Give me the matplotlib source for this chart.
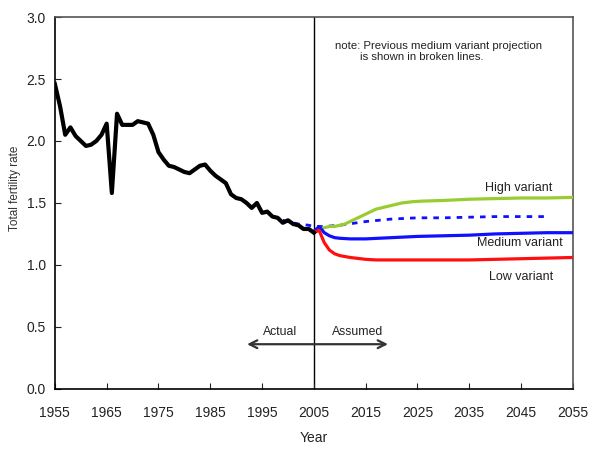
import numpy as np
import matplotlib
matplotlib.use('Agg')
import matplotlib.pyplot as plt

plt.rcParams['font.family'] = ['Liberation Sans', 'DejaVu Sans']

# actual total fertility rate
actual_years = list(range(1955, 2006))
actual_tfr = [2.46, 2.28, 2.05, 2.11, 2.04, 2.00, 1.96, 1.97, 2.00, 2.05,
              2.14, 1.58, 2.22, 2.13, 2.13, 2.13, 2.16, 2.15, 2.14, 2.05,
              1.91, 1.85, 1.80, 1.79, 1.77, 1.75, 1.74, 1.77, 1.80, 1.81,
              1.76, 1.72, 1.69, 1.66, 1.57, 1.54, 1.53, 1.50, 1.46, 1.50,
              1.42, 1.43, 1.39, 1.38, 1.34, 1.36, 1.33, 1.32, 1.29, 1.29,
              1.26]

# projections
high_years = [2005, 2006, 2007, 2008, 2009, 2010, 2011, 2012, 2013, 2014, 2015, 2016, 2017,
              2018, 2019, 2020, 2022, 2024, 2026, 2030, 2035, 2040, 2045, 2050, 2055]
high_tfr = [1.26, 1.29, 1.30, 1.31, 1.31, 1.32, 1.33, 1.35, 1.37, 1.39, 1.41, 1.43, 1.45,
            1.46, 1.47, 1.48, 1.50, 1.51, 1.515, 1.52, 1.53, 1.535, 1.54, 1.54, 1.545]

medium_years = [2005, 2006, 2007, 2008, 2009, 2010, 2012, 2015, 2020, 2025, 2030, 2035, 2040, 2045, 2050, 2055]
medium_tfr = [1.27, 1.31, 1.26, 1.235, 1.22, 1.215, 1.21, 1.21, 1.22, 1.23, 1.235, 1.24, 1.25, 1.255, 1.26, 1.26]

low_years = [2005, 2006, 2007, 2008, 2009, 2010, 2012, 2015, 2017, 2020, 2025, 2030, 2035, 2040, 2045, 2050, 2055]
low_tfr = [1.26, 1.28, 1.18, 1.12, 1.09, 1.075, 1.06, 1.045, 1.04, 1.04, 1.04, 1.04, 1.04, 1.045, 1.05, 1.055, 1.06]

# previous medium variant projection (broken line)
prev_years = [1999, 2000, 2002, 2004, 2005, 2007, 2010, 2015, 2020, 2025, 2030, 2035, 2040, 2045, 2050]
prev_tfr = [1.36, 1.35, 1.33, 1.32, 1.31, 1.31, 1.32, 1.35, 1.37, 1.38, 1.38, 1.385, 1.39, 1.39, 1.39]

xticks = list(range(1955, 2056, 10))
yticks = [0.0, 0.5, 1.0, 1.5, 2.0, 2.5, 3.0]

fig = plt.figure(figsize=(5.9, 4.49), dpi=100)
ax = fig.add_axes([0.093, 0.134, 0.878, 0.828])

ax.plot(prev_years, prev_tfr, color='#1010ff', lw=2, dashes=(2, 2.2), zorder=2)
ax.plot(high_years, high_tfr, color='#99cc33', lw=2.3, zorder=3)
ax.plot(medium_years, medium_tfr, color='#1010ff', lw=2.3, zorder=3)
ax.plot(low_years, low_tfr, color='#ff1010', lw=2.3, zorder=3)
ax.plot(actual_years, actual_tfr, color='black', lw=3, solid_joinstyle='round', zorder=4)

ax.axvline(2005, color='black', lw=1, zorder=1)

ax.set_xlim(1955, 2055)
ax.set_ylim(0, 3.0)
ax.set_xticks(xticks)
ax.set_yticks(yticks)
ax.set_yticklabels(['%.1f' % v for v in yticks])
ax.tick_params(direction='in', length=4, labelsize=10, colors='#222222', pad=6.5)
ax.tick_params(axis='x', pad=12)
for side in ['left', 'bottom']:
    ax.spines[side].set_color('black')
    ax.spines[side].set_linewidth(1.2)
for side in ['top', 'right']:
    ax.spines[side].set_color('#555555')
    ax.spines[side].set_linewidth(1.2)

ax.set_xlabel('Year', fontsize=10, color='#222222')
ax.xaxis.set_label_coords(0.5, -0.114)
ax.set_ylabel('Total fertility rate', fontsize=8.5, color='#333333')
ax.yaxis.set_label_coords(-0.066, 0.54)

ax.text(2044.6, 1.62, 'High variant', fontsize=9, ha='center', va='center', color='#222222')
ax.text(2044.7, 1.176, 'Medium variant', fontsize=9, ha='center', va='center', color='#222222')
ax.text(2045.0, 0.90, 'Low variant', fontsize=9, ha='center', va='center', color='#222222')
ax.text(2009.0, 2.72, 'note: Previous medium variant projection\n        is shown in broken lines.',
        fontsize=8.2, ha='left', va='center', color='#222222', linespacing=1.15)

ax.text(1998.4, 0.46, 'Actual', fontsize=8.8, ha='center', va='center', color='#222222')
ax.text(2013.5, 0.46, 'Assumed', fontsize=8.8, ha='center', va='center', color='#222222')
ax.annotate('', xy=(1992.1, 0.36), xytext=(2019.3, 0.36),
            arrowprops=dict(arrowstyle='<->', color='#333333', lw=1.6, mutation_scale=14,
                            shrinkA=0, shrinkB=0))

fig.savefig('out.png', dpi=100)
